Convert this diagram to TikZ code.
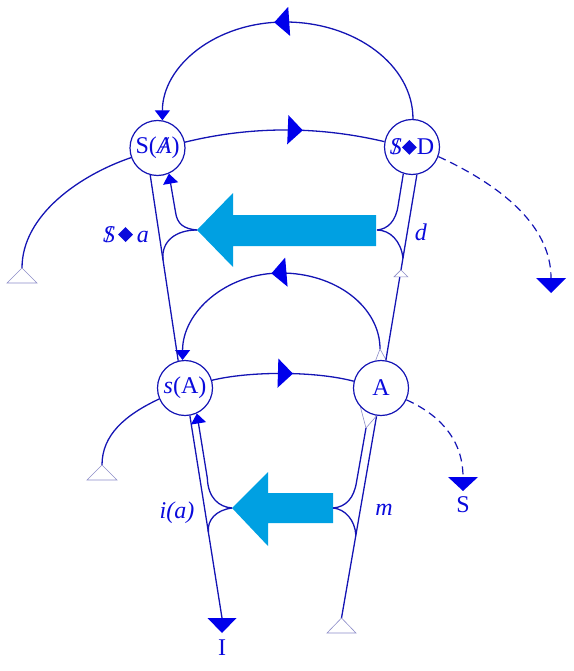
\documentclass[tikz,border=0pt]{standalone}
\usepackage{fontspec}
\setmainfont{Liberation Serif}
\usetikzlibrary{arrows.meta,decorations.markings,calc}
\definecolor{ln}{RGB}{20,20,180}
\definecolor{fl}{RGB}{0,0,235}
\definecolor{txt}{RGB}{10,10,220}
\definecolor{cy}{RGB}{0,160,226}
\definecolor{hol}{RGB}{140,140,200}
\newcommand{\slS}{\ooalign{\itshape S\cr\hidewidth/\hidewidth\cr}}
\newcommand{\slA}{\ooalign{\itshape A\cr\hidewidth\itshape/\hidewidth\cr}}
\newcommand{\dmd}{\rotatebox{45}{\rule{10.5pt}{10.5pt}}}
\begin{document}
\begin{tikzpicture}[x=1pt,y=-1pt,
  wire/.style={draw=ln,line width=1.3pt},
  dsh/.style={draw=ln,line width=1.2pt,dash pattern=on 8pt off 5pt},
  circ/.style={circle,draw=ln,line width=1.2pt,minimum size=55pt,inner sep=0pt,text=txt,font=\fontsize{24}{26}\selectfont},
  lab/.style={text=txt,font=\fontsize{24}{26}\selectfont,inner sep=0pt,anchor=base},
  midarr/.style={postaction={decorate},decoration={markings,mark=at position #1 with {\arrow{Triangle[length=15pt,width=29pt,color=fl]}}}},
  endarr/.style={-{Triangle[length=10pt,width=15pt,color=fl]}},
  hollow/.style={draw=hol,line width=0.6pt},
]
\useasboundingbox (0,0) rectangle (573,671);

% nodes
\node[circ] (SA) at (157.5,148) {S(\slA)};
\node[circ] (SD) at (412,147) {\slS\dmd D};
\node[circ] (sA) at (185,388) {\textit{s}(A)};
\node[circ] (A) at (381,388) {A};

% coordinates
\coordinate (J1) at (197,230);
\coordinate (J2) at (377,230);
\coordinate (J3) at (232,508);
\coordinate (J4) at (333,508);
\coordinate (M1) at ($(SA.255)!0.457!(sA.104)$);
\coordinate (M2) at ($(SD.280)!0.449!(A.80)$);
\coordinate (M3) at ($(sA.280)!0.576!(222,618)$);
\coordinate (Ib) at (222,618);
\coordinate (Tb) at (341.5,618);
\coordinate (M4) at ($(A.261)!0.591!(Tb)$);
\coordinate (Atop) at (380,349);
\coordinate (Abot) at (366,428);
\coordinate (T3) at (22,268);
\coordinate (T4) at (102,465);
\coordinate (E1) at (551,278);
\coordinate (E2) at (463,477);
\coordinate (Tm) at ($(SD.280)!0.513!(A.80)$);

% cyan arrows
\fill[cy] (J1) -- (233,193) -- (233,215) -- (376,215) -- (376,246) -- (233,246) -- (233,267) -- cycle;
\fill[cy] (J3) -- (268,472) -- (268,493) -- (333,493) -- (333,523) -- (268,523) -- (268,546) -- cycle;

% top arc
\draw[wire,midarr=0.535,endarr] (SD.88) .. controls +(0,-54) and +(70,0) .. (285,22) .. controls +(-70,0) and +(0,-54) .. (SA.80);
% SA -> SD
\draw[wire,midarr=0.59] (SA.12) .. controls (251,126) and (318,126) .. (SD.169);
% sA -> A
\draw[wire,midarr=0.57] (sA.16) .. controls (250,371) and (315,371) .. (A.166);
% middle upper arc
\draw[wire,midarr=0.52,endarr] (Atop) .. controls +(0,-42) and +(55,0) .. (281,273) .. controls +(-55,0) and +(0,-48) .. (sA.95);
\draw[hollow] (A.101) -- (Atop) -- (A.79);

% left main line and branches
\draw[wire] (SA.255) -- (sA.104);
\draw[wire,endarr] (J1) .. controls (184,229) and (177,224) .. (175.5,212) -- (SA.294);
\draw[wire] (J1) .. controls (176,230) and (161,241) .. (M1);

% right upper lines
\draw[wire] (SD.280) -- (A.80);
\draw[wire] (SD.252) -- (398.2,205) .. controls (396,221) and (388,229) .. (J2);
\draw[wire] (J2) .. controls (390,230) and (401,241) .. (M2);
\draw[hollow,fill=white] (Tm) -- ++(-7,7) -- ++(14,0) -- cycle;

% bottom left
\draw[wire] (sA.280) -- (Ib);
\fill[fl] (Ib) ++(-14.5,0) -- ++(29,0) -- ++(-14.5,15) -- cycle;
\draw[wire,endarr] (J3) .. controls (219,507) and (208,498) .. (207.3,478) -- (sA.295);
\draw[wire] (J3) .. controls (216,510) and (207,520) .. (M3);

% bottom right
\draw[wire] (A.261) -- (Tb);
\draw[hollow] (Tb) -- ++(-14.5,15) -- ++(29,0) -- cycle;
\draw[hollow] (A.223) -- (Abot) -- (A.261);
\draw[wire] (Abot) -- (356.5,482) .. controls (354,498) and (346,507) .. (J4);
\draw[wire] (J4) .. controls (345,509) and (355,520) .. (M4);

% left arcs to hollow triangles
\draw[wire] (SA.200) .. controls (80,175) and (22,215) .. (T3);
\draw[hollow] (T3) -- ++(-15,15) -- ++(30,0) -- cycle;
\draw[wire] (sA.203) .. controls (125,415) and (102,435) .. (T4);
\draw[hollow] (T4) -- ++(-15,15) -- ++(30,0) -- cycle;

% dashed arcs
\draw[dsh] (SD.-20) .. controls (500,185) and (551,225) .. (E1);
\fill[fl] (E1) ++(-15,0) -- ++(30,0) -- ++(-15,15) -- cycle;
\draw[dsh] (A.-25) .. controls (440,415) and (463,440) .. (E2);
\fill[fl] (E2) ++(-15,0) -- ++(30,0) -- ++(-15,14) -- cycle;

% labels
\node[lab] (lsa) at (126,242) {\slS\kern3pt\dmd\kern4pt\textit{a}};
\node[lab] (ld) at (421,240) {\textit{d}};
\node[lab] (lia) at (177,518) {\textit{i(a)}};
\node[lab] (lm) at (384,515) {\textit{m}};
\node[lab] (lI) at (222,655) {I};
\node[lab] (lS) at (463,512) {S};
\end{tikzpicture}
\end{document}
